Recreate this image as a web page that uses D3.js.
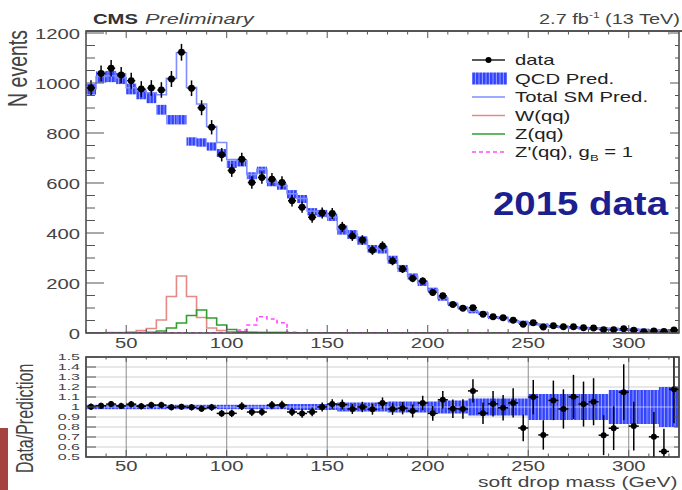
<!DOCTYPE html>
<html>
<head>
<meta charset="utf-8">
<script src="https://cdn.jsdelivr.net/npm/d3@7/dist/d3.min.js"></script>
<style>
  html, body { margin: 0; padding: 0; background: #fff; overflow: hidden; }
  svg { display: block; }
  text { font-family: "Liberation Sans", Arial, Helvetica, sans-serif; }
</style>
</head>
<body>
<svg id="chart" width="682" height="490"></svg>
<script>
// ---- soft drop mass bins (lower edges, GeV) ----
const massLow = [30,35,40,45,50,55,60,65,70,75,80,85,90,95,100,105,110,115,120,125,
                 130,135,140,145,150,155,160,165,170,175,180,185,190,195,200,205,210,215,220,225,
                 230,235,240,245,250,255,260,265,270,275,280,285,290,295,300,305,310,315,320];
const binWidthGeV = 5;

// ---- observed events per bin ----
const dataCounts = [980,1038,1059,1032,1009,976,980,972,1016,1123,
                    979,901,823,713,650,695,602,622,615,602,
                    529,503,463,480,478,424,388,372,331,348,
                    288,256,218,208,162,149,114,99,101,75,
                    65,61,51,35,41,24,29,25,25,21,
                    20,13,13,17,11,5,8,6,12];

// ---- QCD prediction per bin ----
const qcdPred = [975,1024,1026,1018,976,956,940,893,853,853,
                 766,762,746,720,675,681,629,651,600,586,
                 555,536,485,478,462,412,394,370,337,333,
                 293,258,226,199,172,138,115,100,86,79,
                 62,60.5,48,43.3,36.3,32.3,26.2,24.5,21.7,19.4,
                 18,17.1,15.5,13.8,12.6,11.5,10.4,9.8,9.2];

// ---- relative uncertainty of the QCD prediction ----
const qcdRelUnc = [0.022,0.022,0.022,0.022,0.022,0.022,0.022,0.022,0.022,0.022,
                   0.022,0.022,0.022,0.022,0.022,0.022,0.022,0.022,0.022,0.022,
                   0.03,0.03,0.03,0.03,0.03,0.045,0.045,0.045,0.045,0.045,
                   0.055,0.055,0.055,0.055,0.055,0.065,0.065,0.065,0.085,0.085,
                   0.085,0.085,0.085,0.085,0.13,0.13,0.13,0.13,0.13,0.13,
                   0.13,0.13,0.17,0.17,0.17,0.17,0.17,0.2,0.2];

// ---- W(qq) and Z(qq) backgrounds ----
const wqq = [1,1,2,2,4,10,18,52,146,228,
             146,62,20,10,5,3,2,2,1.5,1.5,
             0.8,0.8,0.8,0.8,0.8,0.8,0.8,0.8,0.8,0.8,
             0.5,0.5,0.5,0.5,0.5,0.5,0.5,0.5,0.5,0.5,
             0.5,0.5,0.5,0.5,0.5,0.5,0.5,0.5,0.5,0.5,
             0.5,0.5,0.5,0.5,0.5,0.5,0.5,0.5,0.5];
const zqq = [1,1,1,1,1,2,3,8,20,40,
             70,92,60,32,14,5,3,2,2,2,
             1,1,1,1,1,1,1,1,1,1,
             0.5,0.5,0.5,0.5,0.5,0.5,0.5,0.5,0.5,0.5,
             0.5,0.5,0.5,0.5,0.5,0.5,0.5,0.5,0.5,0.5,
             0.5,0.5,0.5,0.5,0.5,0.5,0.5,0.5,0.5];

// ---- Z'(qq) signal, g_B = 1 ----
const zprime = [1,1,1,1,1,1,1,1,1,1,
                1,1,1,2,4,12,32,65,56,41,
                3,1,1,1,1,1,1,1,1,1,
                1,1,1,1,1,1,1,1,1,1,
                1,1,1,1,1,1,1,1,1,1,
                1,1,1,1,1,1,1,1,1];

// ---- axis ticks ----
const massTicks = [50,100,150,200,250,300];
const eventTicks = [0,200,400,600,800,1000,1200];
const ratioTicks = [0.5,0.6,0.7,0.8,0.9,1,1.1,1.2,1.3,1.4,1.5];
const ratioTickLabels = ["0.5","0.6","0.7","0.8","0.9","1","1.1","1.2","1.3","1.4","1.5"];

const bins = massLow.map((lo, i) => ({
  lo, hi: lo + binWidthGeV,
  n: dataCounts[i], qcd: qcdPred[i], w: wqq[i], z: zqq[i], zp: zprime[i], rel: qcdRelUnc[i],
  total: qcdPred[i] + wqq[i] + zqq[i]
}));

const svg = d3.select("#chart");
const x = d3.scaleLinear().domain([30, 325]).range([86, 679]);
const y = d3.scaleLinear().domain([0, 1208]).range([333, 31]);
const yR = d3.scaleLinear().domain([0.5, 1.5]).range([457, 357]);

const defs = svg.append("defs");
const hatch = defs.append("pattern").attr("id", "hatch")
  .attr("patternUnits", "userSpaceOnUse").attr("width", 3.5).attr("height", 4);
hatch.append("rect").attr("width", 3.5).attr("height", 4).attr("fill", "#3243ff");
hatch.append("rect").attr("x", 2.5).attr("width", 1).attr("height", 4).attr("fill", "#97a0ff");

defs.append("clipPath").attr("id", "clipMain").append("rect")
  .attr("x", x.range()[0]).attr("y", y.range()[1])
  .attr("width", x.range()[1] - x.range()[0]).attr("height", y.range()[0] - y.range()[1]);
defs.append("clipPath").attr("id", "clipRatio").append("rect")
  .attr("x", x.range()[0]).attr("y", yR.range()[1])
  .attr("width", x.range()[1] - x.range()[0]).attr("height", yR.range()[0] - yR.range()[1]);

function label(g, str, px, py, o) {
  return g.append("text")
    .attr("transform", `translate(${px},${py}) scale(${o.sx ?? 1},${o.sy ?? 1})`)
    .attr("text-anchor", o.anchor || "start")
    .attr("font-size", o.size)
    .attr("font-weight", o.weight || "normal")
    .attr("font-style", o.style || "normal")
    .attr("fill", o.fill || "#333")
    .text(str);
}

// ================= main pad =================
const main = svg.append("g").attr("clip-path", "url(#clipMain)");

// QCD prediction with its uncertainty (hatched boxes)
main.append("g").selectAll("rect").data(bins).join("rect")
  .attr("x", d => x(d.lo)).attr("width", d => x(d.hi) - x(d.lo))
  .attr("y", d => Math.min(y(d.qcd * (1 + d.rel)), y(d.qcd) - 1.5))
  .attr("height", d => Math.max(y(d.qcd * (1 - d.rel)) - y(d.qcd * (1 + d.rel)), 3))
  .attr("fill", "url(#hatch)");

const stepLine = d3.line().curve(d3.curveStepAfter);
function stepPts(acc) {
  const pts = bins.map(b => [x(b.lo), y(acc(b))]);
  const last = bins[bins.length - 1];
  pts.push([x(last.hi), y(acc(last))]);
  return pts;
}
main.append("path").attr("d", stepLine(stepPts(b => b.total)))
  .attr("fill", "none").attr("stroke", "#7f8dff").attr("stroke-width", 1.6);
main.append("path").attr("d", stepLine(stepPts(b => b.w)))
  .attr("fill", "none").attr("stroke", "#e48a86").attr("stroke-width", 1.6);
main.append("path").attr("d", stepLine(stepPts(b => b.z)))
  .attr("fill", "none").attr("stroke", "#2f9e2f").attr("stroke-width", 1.6);
main.append("path").attr("d", stepLine(stepPts(b => b.zp)))
  .attr("fill", "none").attr("stroke", "#ff4cff").attr("stroke-width", 1.6)
  .attr("stroke-dasharray", "4,3");

// data points with statistical error bars
const dataG = main.append("g").attr("stroke", "#000").attr("stroke-width", 1.5);
bins.forEach(b => {
  const cx = x((b.lo + b.hi) / 2), e = Math.sqrt(b.n);
  dataG.append("line").attr("x1", cx).attr("x2", cx).attr("y1", y(b.n - e)).attr("y2", y(b.n + e));
  dataG.append("line").attr("x1", x(b.lo) + 1).attr("x2", x(b.hi) - 1).attr("y1", y(b.n)).attr("y2", y(b.n));
  dataG.append("circle").attr("cx", cx).attr("cy", y(b.n)).attr("r", 3.4).attr("fill", "#000").attr("stroke", "none");
});

// frame and ticks
const axG = svg.append("g").attr("stroke", "#555").attr("stroke-width", 1);
axG.append("rect").attr("x", 86).attr("y", 31).attr("width", 593).attr("height", 302)
  .attr("fill", "none").attr("stroke", "#444").attr("stroke-width", 1.5);
axG.append("line").attr("x1", 86).attr("x2", 682).attr("y1", 31).attr("y2", 31)
  .attr("stroke", "#555").attr("stroke-width", 2.2);

y.ticks(24).forEach(v => {
  const major = eventTicks.includes(v);
  axG.append("line").attr("x1", 86).attr("x2", 86 + (major ? 18 : 9)).attr("y1", y(v)).attr("y2", y(v));
  axG.append("line").attr("x1", 679).attr("x2", 679 - (major ? 9 : 4)).attr("y1", y(v)).attr("y2", y(v));
});
x.ticks(30).forEach(v => {
  const major = massTicks.includes(v);
  axG.append("line").attr("x1", x(v)).attr("x2", x(v)).attr("y1", 31).attr("y2", 31 + (major ? 7 : 3.5));
  axG.append("line").attr("x1", x(v)).attr("x2", x(v)).attr("y1", 333).attr("y2", 333 - (major ? 8 : 4));
});

const txt = svg.append("g");
eventTicks.forEach(v => label(txt, String(v), 80, y(v) + 5.5, {size: 15, sx: 1.35, anchor: "end", fill: "#444"}));
massTicks.forEach(v => label(txt, String(v), x(v), 348, {size: 15, sx: 1.35, anchor: "middle", fill: "#444"}));

// ================= ratio pad =================
const rGrid = svg.append("g");
ratioTicks.slice(1, -1).forEach(v => rGrid.append("line")
  .attr("x1", 86).attr("x2", 679).attr("y1", yR(v)).attr("y2", yR(v))
  .attr("stroke", "#cfcfcf").attr("stroke-width", 1));
massTicks.forEach(v => rGrid.append("line")
  .attr("x1", x(v)).attr("x2", x(v)).attr("y1", 357).attr("y2", 457)
  .attr("stroke", "#8c8c8c").attr("stroke-width", 1));

const ratio = svg.append("g").attr("clip-path", "url(#clipRatio)");
ratio.append("g").selectAll("rect").data(bins).join("rect")
  .attr("x", d => x(d.lo)).attr("width", d => x(d.hi) - x(d.lo))
  .attr("y", d => yR(1 + d.rel)).attr("height", d => yR(1 - d.rel) - yR(1 + d.rel))
  .attr("fill", "url(#hatch)");
ratio.append("line").attr("x1", 86).attr("x2", 679).attr("y1", yR(1)).attr("y2", yR(1))
  .attr("stroke", "#ffffff").attr("stroke-opacity", 0.55).attr("stroke-width", 1);

const rData = ratio.append("g").attr("stroke", "#000").attr("stroke-width", 1.5);
bins.forEach(b => {
  const r = b.n / b.total;
  if (r < 0.5 || r > 1.5) return;
  const e = Math.sqrt(b.n) / b.total, cx = x((b.lo + b.hi) / 2);
  rData.append("line").attr("x1", cx).attr("x2", cx).attr("y1", yR(r - e)).attr("y2", yR(r + e));
  rData.append("line").attr("x1", x(b.lo)).attr("x2", x(b.hi)).attr("y1", yR(r)).attr("y2", yR(r));
  rData.append("circle").attr("cx", cx).attr("cy", yR(r)).attr("r", 3).attr("fill", "#000").attr("stroke", "none");
});

const rAx = svg.append("g").attr("stroke", "#555").attr("stroke-width", 1);
rAx.append("rect").attr("x", 86).attr("y", 357).attr("width", 593).attr("height", 100)
  .attr("fill", "none").attr("stroke", "#333").attr("stroke-width", 1.6);
ratioTicks.forEach(v => {
  const major = v === 0.5 || v === 1 || v === 1.5;
  rAx.append("line").attr("x1", 86).attr("x2", 86 + (major ? 14 : 10)).attr("y1", yR(v)).attr("y2", yR(v));
  rAx.append("line").attr("x1", 679).attr("x2", 679 - 5).attr("y1", yR(v)).attr("y2", yR(v));
});
x.ticks(30).forEach(v => {
  const major = massTicks.includes(v);
  rAx.append("line").attr("x1", x(v)).attr("x2", x(v)).attr("y1", 457).attr("y2", 457 - (major ? 7 : 3.5));
  rAx.append("line").attr("x1", x(v)).attr("x2", x(v)).attr("y1", 357).attr("y2", 357 + (major ? 5 : 2.5));
});
ratioTicks.forEach((v, i) => label(txt, ratioTickLabels[i], 80, yR(v) + 3.3,
  {size: 10, sx: 1.6, sy: 0.85, anchor: "end", fill: "#444"}));
massTicks.forEach(v => label(txt, String(v), x(v), 471, {size: 15, sx: 1.35, anchor: "middle", fill: "#444"}));

// axis titles
label(txt, "soft drop mass (GeV)", 478, 487, {size: 15, sx: 1.4, fill: "#444"});
txt.append("text").attr("transform", "translate(27,30) rotate(-90) scale(1,1.45)")
  .attr("text-anchor", "end").attr("font-size", 19.5).attr("fill", "#444").text("N events");
txt.append("text").attr("transform", "translate(33,473) rotate(-90) scale(1,1.45)")
  .attr("text-anchor", "start").attr("font-size", 16).attr("fill", "#444").text("Data/Prediction");

// header
label(txt, "CMS", 93, 24, {size: 15, sx: 1.35, weight: "bold", fill: "#333"});
label(txt, "Preliminary", 145, 24, {size: 15, sx: 1.45, style: "italic", fill: "#444"});
const lumi = txt.append("text").attr("transform", "translate(680,24) scale(1.33,1)")
  .attr("text-anchor", "end").attr("font-size", 15).attr("fill", "#444");
lumi.append("tspan").text("2.7 fb");
lumi.append("tspan").attr("font-size", 9).attr("dy", -6).text("-1");
lumi.append("tspan").attr("dy", 6).text(" (13 TeV)");

// legend
const leg = svg.append("g");
const rowY = [60, 78.5, 97, 115.5, 134, 152];
leg.append("line").attr("x1", 472).attr("x2", 505).attr("y1", rowY[0]).attr("y2", rowY[0])
  .attr("stroke", "#222").attr("stroke-width", 1.3);
leg.append("circle").attr("cx", 488.5).attr("cy", rowY[0]).attr("r", 3).attr("fill", "#000");
leg.append("rect").attr("x", 472).attr("y", rowY[1] - 6).attr("width", 35).attr("height", 12).attr("fill", "url(#hatch)");
[["#7f8dff", null], ["#e48a86", null], ["#2f9e2f", null], ["#ff4cff", "4,3"]].forEach(([c, dash], i) => {
  leg.append("line").attr("x1", 472).attr("x2", 505).attr("y1", rowY[i + 2]).attr("y2", rowY[i + 2])
    .attr("stroke", c).attr("stroke-width", 1.6).attr("stroke-dasharray", dash);
});
["data", "QCD Pred.", "Total SM Pred.", "W(qq)", "Z(qq)"].forEach((s, i) =>
  label(leg, s, 515, rowY[i] + 5, {size: 14, sx: 1.45, fill: "#222"}));
const zpLabel = leg.append("text").attr("transform", `translate(515,${rowY[5] + 5}) scale(1.45,1)`)
  .attr("font-size", 14).attr("fill", "#222");
zpLabel.append("tspan").text("Z'(qq), g");
zpLabel.append("tspan").attr("font-size", 9).attr("dy", 4).text("B");
zpLabel.append("tspan").attr("dy", -4).text(" = 1");

// slide annotation
svg.append("text").attr("x", 493).attr("y", 215)
  .attr("font-family", "Lato, 'Open Sans', sans-serif").attr("font-weight", 700)
  .attr("font-size", 34).attr("fill", "#1b1f8f")
  .attr("textLength", 175).attr("lengthAdjust", "spacingAndGlyphs")
  .text("2015 data");

svg.append("rect").attr("x", 0).attr("y", 428).attr("width", 8).attr("height", 62).attr("fill", "#a5443e");
</script>
</body>
</html>
